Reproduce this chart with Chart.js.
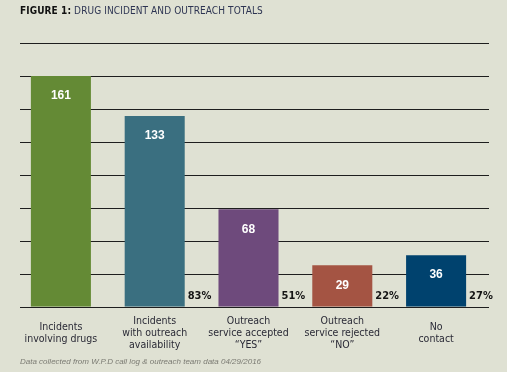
<!DOCTYPE html>
<html>
<head>
<meta charset="utf-8">
<script src="https://cdn.jsdelivr.net/npm/chart.js@4.4.0/dist/chart.umd.min.js"></script>
<style>
  html, body { margin: 0; padding: 0; background: #dfe1d3; }
  #wrap { position: relative; width: 507px; height: 372px; overflow: hidden; }
  canvas { position: absolute; left: 0; top: 0; }
  #title { position: absolute; left: 20px; top: 5px; font: 10px "Liberation Sans Narrow", "DejaVu Sans Condensed", sans-serif; color: #2d3452; white-space: nowrap; letter-spacing: 0.1px; }
  #title b { color: #111; }
  #note { position: absolute; left: 20px; top: 357px; font: italic 8px "Liberation Sans", sans-serif; color: #7a7a72; white-space: nowrap; }
</style>
</head>
<body>
<div id="wrap">
  <canvas id="c" width="507" height="372"></canvas>
  <div id="title"><b>FIGURE 1:</b> DRUG INCIDENT AND OUTREACH TOTALS</div>
  <div id="note">Data collected from W.P.D call log &amp; outreach team data 04/29/2016</div>
</div>
<script>
const categories = [
  ["Incidents", "involving drugs"],
  ["Incidents", "with outreach", "availability"],
  ["Outreach", "service accepted", "\u201CYES\u201D"],
  ["Outreach", "service rejected", "\u201CNO\u201D"],
  ["No", "contact"]
];
const totals = [161, 133, 68, 29, 36];
const percents = ["", "83%", "51%", "22%", "27%"];
const barColors = ["#648a35", "#3a6f80", "#6e4a7c", "#a45443", "#00426e"];
const yMax = 184;
const yStep = 23;

const gridPlugin = {
  id: 'gridLines',
  beforeDatasetsDraw(chart) {
    const ctx = chart.ctx;
    const ys = chart.scales.y;
    ctx.save();
    ctx.strokeStyle = '#1e1e1e';
    ctx.lineWidth = 1;
    ys.ticks.forEach(t => {
      const y = Math.round(ys.getPixelForValue(t.value)) + 0.5;
      ctx.beginPath();
      ctx.moveTo(20, y);
      ctx.lineTo(489, y);
      ctx.stroke();
    });
    ctx.restore();
  }
};

const labelPlugin = {
  id: 'barLabels',
  afterDatasetsDraw(chart) {
    const ctx = chart.ctx;
    const meta = chart.getDatasetMeta(0);
    const base = chart.scales.y.getPixelForValue(0);
    ctx.save();
    meta.data.forEach((bar, i) => {
      ctx.fillStyle = '#ffffff';
      ctx.font = 'bold 12px "Liberation Sans", Arial, sans-serif';
      ctx.textAlign = 'center';
      ctx.textBaseline = 'middle';
      ctx.fillText(String(totals[i]), bar.x, bar.y + 20);
      if (percents[i]) {
        ctx.fillStyle = '#151515';
        ctx.font = 'bold 11px "Liberation Sans Narrow", "DejaVu Sans Condensed", sans-serif';
        ctx.textAlign = 'left';
        ctx.fillText(percents[i], bar.x + bar.width / 2 + 3, base - 11);
      }
    });
    ctx.restore();
  }
};

new Chart(document.getElementById('c'), {
  type: 'bar',
  data: {
    labels: categories,
    datasets: [{
      data: totals,
      backgroundColor: barColors,
      borderWidth: 0,
      categoryPercentage: 1,
      barPercentage: 0.64
    }]
  },
  options: {
    responsive: false,
    animation: false,
    events: [],
    layout: { padding: { left: 14, right: 24, top: 43, bottom: 9 } },
    plugins: { legend: { display: false }, tooltip: { enabled: false } },
    scales: {
      x: {
        grid: { display: false },
        border: { display: false },
        ticks: {
          color: '#2a2a36',
          padding: 6,
          crossAlign: 'center',
          maxRotation: 0,
          autoSkip: false,
          font: { family: '"Liberation Sans Narrow", "DejaVu Sans Condensed", sans-serif', size: 10.5, lineHeight: 1.15 }
        }
      },
      y: {
        display: false,
        min: 0,
        max: yMax,
        ticks: { stepSize: yStep }
      }
    }
  },
  plugins: [gridPlugin, labelPlugin]
});
</script>
</body>
</html>
